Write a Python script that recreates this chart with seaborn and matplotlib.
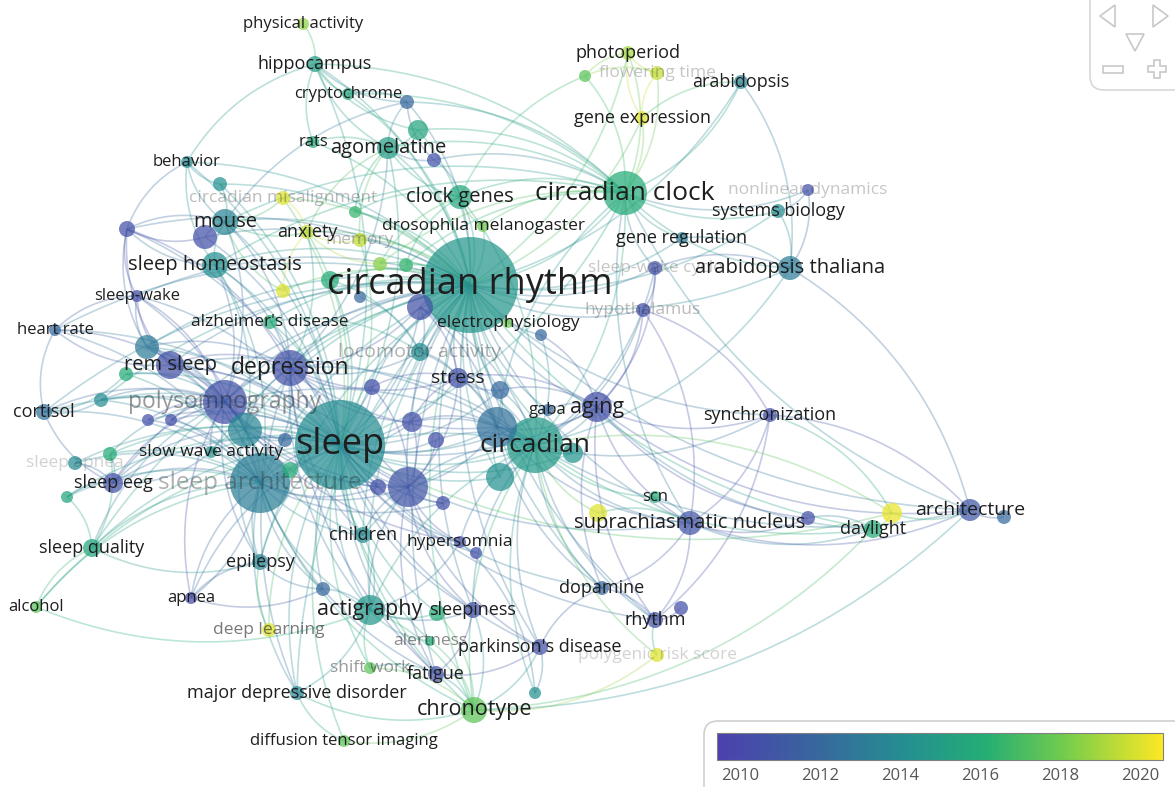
import numpy as np
import pandas as pd
import matplotlib
matplotlib.use("Agg")
import matplotlib.pyplot as plt
import seaborn as sns
from matplotlib.collections import LineCollection
from matplotlib.colors import LinearSegmentedColormap
from matplotlib.patches import FancyBboxPatch, Polygon, Rectangle

sns.set_style("white")
plt.rcParams['font.family'] = ['Open Sans', 'DejaVu Sans']

# --- nodes (map coordinates, average publication year) ---
node_ids = ['cr', 'sl', 'cc', 'ci', 'sa', 'dp', 'ps', 'ag', 'rs', 'sh',
            'mo', 'at', 'st', 'sn', 'ar', 'dl', 'ac', 'ch', 'cg', 'am',
            'hc', 'pa', 'cy', 'ra', 'be', 'cm', 'ax', 'me', 'dm', 'pp',
            'ft', 'ge', 'ab', 'nd', 'sb', 'gr', 'swc', 'hy', 'ep', 'la',
            'ad', 'sw', 'hr', 'co', 'sp', 'swa', 'se', 'sq', 'al', 'el',
            'an', 'dle', 'cn', 'hs', 'si', 'alt', 'pd', 'shw', 'fa', 'mdd',
            'dti', 'do', 'rh', 'prs', 'scn', 'sy', 'ga',
            'u1', 'u2', 'u3', 'u4', 'u5', 'u6', 'u7', 'u8', 'u9', 'u10',
            'u11', 'u12', 'u13', 'u14', 'u15', 'u16', 'u17', 'u18', 'u19', 'u20',
            'u21', 'u22', 'u23', 'u24', 'u25', 'u26', 'u27', 'u28', 'u29', 'u30',
            'u31', 'u32', 'u33', 'u34', 'u35', 'u36', 'u37', 'u38', 'u39', 'u40',
            'u41', 'u42', 'u43', 'u44']
node_labels = ['circadian rhythm', 'sleep', 'circadian clock', 'circadian', 'sleep architecture',
               'depression', 'polysomnography', 'aging', 'rem sleep', 'sleep homeostasis',
               'mouse', 'arabidopsis thaliana', 'stress', 'suprachiasmatic nucleus', 'architecture',
               'daylight', 'actigraphy', 'chronotype', 'clock genes', 'agomelatine',
               'hippocampus', 'physical activity', 'cryptochrome', 'rats', 'behavior',
               'circadian misalignment', 'anxiety', 'memory', 'drosophila melanogaster', 'photoperiod',
               'flowering time', 'gene expression', 'arabidopsis', 'nonlinear dynamics', 'systems biology',
               'gene regulation', 'sleep-wake cycle', 'hypothalamus', 'electrophysiology', 'locomotor activity',
               "alzheimer's disease", 'sleep-wake', 'heart rate', 'cortisol', 'sleep apnea',
               'slow wave activity', 'sleep eeg', 'sleep quality', 'alcohol', 'epilepsy',
               'apnea', 'deep learning', 'children', 'hypersomnia', 'sleepiness',
               'alertness', "parkinson's disease", 'shift work', 'fatigue', 'major depressive disorder',
               'diffusion tensor imaging', 'dopamine', 'rhythm', 'polygenic risk score', 'scn',
               'synchronization', 'gaba'] + [''] * 44
node_x = [470, 340, 625, 535, 260, 290, 225, 597, 170, 215,
          225, 790, 458, 690, 970, 873, 370, 474, 460, 388,
          315, 303, 348, 313, 187, 283, 307, 360, 483, 628,
          657, 642, 741, 808, 778, 682, 655, 643, 508, 420,
          270, 137, 55, 44, 75, 211, 113, 92, 36, 260,
          191, 269, 363, 460, 473, 430, 540, 370, 436, 297,
          344, 602, 655, 657, 655, 770, 548,
          892, 1004, 808, 598, 323, 407, 434, 418, 220, 127,
          283, 380, 420, 360, 147, 126, 101, 148, 171, 245,
          372, 412, 436, 408, 378, 443, 497, 500, 573, 500,
          110, 67, 290, 476, 541, 330, 355, 535, 437, 681,
          585, 205, 406, 285]
node_y = [285, 445, 193, 445, 483, 368, 402, 407, 365, 265,
          222, 268, 378, 523, 510, 529, 610, 710, 197, 148,
          64, 24, 94, 142, 162, 198, 232, 240, 226, 53,
          73, 118, 82, 190, 211, 238, 268, 310, 323, 352,
          322, 296, 330, 412, 463, 452, 483, 548, 607, 562,
          598, 630, 535, 542, 610, 641, 647, 668, 674, 693,
          741, 588, 620, 655, 497, 415, 410,
          513, 517, 518, 513, 589, 102, 160, 130, 184, 229,
          291, 264, 307, 297, 347, 374, 400, 420, 420, 430,
          387, 422, 440, 487, 487, 503, 427, 477, 453, 390,
          454, 497, 470, 553, 335, 280, 212, 693, 613, 608,
          76, 237, 265, 440]
node_r = [48, 45, 22, 28, 30, 18, 22, 15, 14, 13,
          13, 12, 10, 12, 11, 9, 15, 13, 12, 11,
          8, 6, 6, 6, 6, 7, 7, 7, 6, 7,
          7, 7, 7, 6, 7, 6, 7, 7, 5, 9,
          7, 6, 6, 8, 7, 6, 10, 9, 6, 8,
          6, 7, 8, 6, 8, 5, 8, 6, 8, 7,
          6, 7, 8, 7, 6, 7, 6,
          10, 7, 7, 9, 7, 7, 7, 10, 7, 8,
          7, 7, 13, 6, 12, 7, 7, 6, 6, 17,
          8, 10, 8, 20, 8, 7, 20, 14, 10, 9,
          7, 6, 8, 6, 6, 9, 6, 6, 8, 7,
          6, 12, 7, 7]
node_year = [2014.6, 2014.0, 2016.0, 2014.8, 2013.2, 2010.6, 2010.6, 2010.5, 2010.6, 2014.2,
             2013.6, 2013.0, 2010.6, 2010.7, 2011.0, 2016.0, 2014.6, 2017.6, 2015.6, 2015.0,
             2015.0, 2018.6, 2015.6, 2016.0, 2014.0, 2020.0, 2019.5, 2019.5, 2018.0, 2019.0,
             2019.5, 2020.0, 2013.5, 2010.5, 2014.0, 2013.0, 2010.5, 2010.5, 2018.0, 2014.0,
             2016.0, 2010.5, 2012.0, 2012.5, 2014.0, 2014.5, 2010.5, 2015.5, 2017.5, 2013.6,
             2010.2, 2020.0, 2014.0, 2010.5, 2010.6, 2016.0, 2010.6, 2017.6, 2010.6, 2013.6,
             2017.6, 2012.0, 2010.6, 2020.0, 2016.0, 2010.5, 2012.0,
             2020.2, 2012.0, 2010.5, 2020.0, 2012.0, 2012.0, 2010.5, 2015.5, 2014.2, 2010.5,
             2020.0, 2018.5, 2010.6, 2012.0, 2013.0, 2016.0, 2014.0, 2010.5, 2010.5, 2013.6,
             2010.5, 2010.5, 2010.5, 2010.8, 2010.5, 2010.5, 2012.5, 2014.3, 2014.5, 2012.0,
             2016.0, 2015.5, 2016.0, 2010.5, 2012.0, 2016.0, 2016.5, 2014.3, 2016.0, 2010.5,
             2017.5, 2010.5, 2016.5, 2012.0]
label_pt = [26, 26, 19, 19, 17.5, 16.5, 16.5, 15.5, 14.5, 14.5,
            14.5, 14.5, 14, 14.5, 14, 13, 15.5, 15.5, 14.5, 14.5,
            13, 12, 12, 12, 12, 12.5, 13, 12.5, 12.5, 13,
            12.5, 13, 13, 12.5, 13, 13, 12.5, 12.5, 12.5, 14,
            12.5, 12, 12, 13, 12.5, 12.5, 13, 13, 12, 13,
            12, 12.5, 13, 12.5, 13, 12.5, 13, 12.5, 13, 13,
            12, 13, 13, 12.5, 12, 13, 12] + [10] * 44
label_alpha = [1, 1, 1, 1, 0.35, 1, 0.45, 1, 1, 1,
               1, 1, 1, 1, 1, 1, 1, 1, 1, 1,
               1, 1, 1, 1, 1, 0.3, 1, 0.3, 1, 1,
               0.25, 1, 1, 0.25, 1, 1, 0.25, 0.3, 1, 0.35,
               1, 1, 1, 1, 0.2, 1, 1, 1, 1, 1,
               1, 0.6, 1, 1, 1, 0.5, 1, 0.45, 1, 1,
               1, 1, 1, 0.2, 1, 1, 1] + [0] * 44

# --- co-occurrence links ---
links = {
    'cr': ['sl', 'ci', 'cc', 'sa', 'dp', 'ps', 'ag', 'rs', 'sh', 'mo', 'at', 'st', 'sn', 'ar',
           'dl', 'ac', 'ch', 'cg', 'am', 'hc', 'cy', 'ra', 'be', 'cm', 'ax', 'me', 'dm', 'pp',
           'ge', 'ab', 'sb', 'gr', 'swc', 'hy', 'ep', 'la', 'ad', 'co', 'swa', 'se', 'cn', 'si',
           'pd', 'fa', 'mdd', 'do', 'rh', 'sy', 'ga', 'u24', 'u27', 'u13', 'u8', 'u6', 'u10',
           'u20', 'u28', 'u29', 'u11', 'u12', 'u36', 'u37', 'u43', 'sw', 'hr', 'sq', 'el',
           'u15', 'u17', 'u21', 'u22', 'u30', 'u35', 'u9', 'u42'],
    'sl': ['ci', 'cc', 'sa', 'dp', 'ps', 'ag', 'rs', 'sh', 'mo', 'st', 'sn', 'ac', 'ch', 'am',
           'hc', 'be', 'ax', 'la', 'ad', 'sw', 'hr', 'co', 'sp', 'swa', 'se', 'sq', 'al', 'el',
           'an', 'dle', 'cn', 'hs', 'si', 'alt', 'pd', 'shw', 'fa', 'mdd', 'dti', 'do', 'rh',
           'ga', 'u24', 'u27', 'u20', 'u15', 'u16', 'u17', 'u31', 'u32', 'u33', 'u10', 'u1',
           'u5', 'u21', 'u22', 'u23', 'u25', 'u26', 'u34', 'u39', 'u44', 'u18', 'u19', 'u13',
           'u28', 'u29', 'u30', 'u36', 'u42', 'u9', 'cm', 'me'],
    'ci': ['cc', 'sa', 'dp', 'ag', 'sn', 'ar', 'dl', 'ac', 'ch', 'at', 'sy', 'do', 'rh', 'u4',
           'scn', 'pd', 'prs', 'hy', 'u27', 'u24', 'st', 'u30', 'u35', 'u38', 'cg', 'swc',
           'u28', 'u29', 'u13', 'u22', 'u23', 'ps', 'rs', 'cn', 'hs', 'si'],
    'cc': ['cg', 'at', 'ab', 'pp', 'ge', 'ft', 'sb', 'gr', 'nd', 'dm', 'u41', 'hc', 'am', 'cy',
           'sn', 'ar', 'swc', 'u8', 'u7', 'u6', 'u27', 'u12', 'u43', 'mo', 'sh'],
    'sa': ['dp', 'ps', 'rs', 'sh', 'se', 'swa', 'el', 'an', 'cn', 'ac', 'sq', 'u24', 'u20',
           'mdd', 'hr', 'co', 'u33', 'u32', 'u15', 'u16', 'u17', 'u18', 'u19', 'u31', 'u21',
           'u25', 'u26', 'sw', 'sp', 'u5', 'al', 'ch', 'fa'],
    'dp': ['ps', 'rs', 'am', 'ax', 'ac', 'st', 'ad', 'u20', 'mdd', 'fa', 'u24', 'u21', 'u15',
           'sh', 'mo', 'u10', 'la', 'u13', 'cn', 'u27', 'u22'],
    'ps': ['rs', 'se', 'sw', 'hr', 'co', 'an', 'el', 'swa', 'u20', 'u15', 'u18', 'u19', 'u16',
           'u17', 'u31', 'sq', 'u24', 'hs', 'u25', 'u44', 'sh', 'mo'],
    'u20': ['rs', 'se', 'swa', 'u15', 'u17', 'sh', 'u24', 'u33', 'el', 'cn', 'u44'],
    'u24': ['rs', 'st', 'u27', 'u21', 'u22', 'u23', 'hs', 'si', 'fa', 'pd', 'cn', 'ac', 'u26'],
    'u27': ['st', 'u30', 'u22', 'u28', 'u29', 'ag', 'do', 'sn', 'la', 'u13'],
    'ag': ['sy', 'sn', 'hy', 'swc', 'ar', 'dl', 'u3', 'rh', 'do', 'ga', 'st', 'u30', 'u35'],
    'hc': ['pa', 'cy', 'be', 'u8', 'am', 'u6', 'ra'],
    'u6': ['cy', 'u7', 'mo', 'am'],
    'am': ['ra', 'u7', 'ax', 'me', 'u8', 'cg', 'u37'],
    'be': ['u9', 'mo', 'u10', 'sh'],
    'mo': ['u9', 'u10', 'u42', 'sh', 'u11', 'ax', 'cm'],
    'u10': ['rs', 'sh', 'sw', 'u42', 'u15'],
    'sw': ['hr', 'rs', 'u15'],
    'hr': ['co', 'rs'],
    'co': ['se', 'u17', 'u16'],
    'se': ['sp', 'u32', 'u31', 'swa'],
    'sq': ['al', 'el', 'u32', 'u31'],
    'al': ['ac'],
    'el': ['an', 'dle', 'u5'],
    'an': ['sa', 'u5'],
    'mdd': ['dti', 'ch', 'ac'],
    'dti': ['ch'],
    'ch': ['shw', 'ac', 'pd', 'prs', 'ar', 'dl', 'si', 'fa', 'alt', 'u39'],
    'fa': ['si', 'pd', 'shw'],
    'rh': ['prs', 'u40', 'do', 'sn', 'sy'],
    'do': ['pd', 'sn'],
    'u38': ['pd', 'hs'],
    'sn': ['u3', 'dl', 'ar', 'scn', 'u4', 'hy', 'sy'],
    'dl': ['u3', 'u1'],
    'u1': ['ar', 'ci', 'sy'],
    'ar': ['u2', 'sy', 'at'],
    'at': ['sb', 'ab', 'swc', 'gr', 'nd'],
    'sb': ['nd'],
    'ab': ['ge'],
    'pp': ['ge', 'ft', 'u41'],
    'ft': ['u41', 'ge'],
    'u41': ['cg'],
    'sy': ['hy'],
    'hy': ['swc'],
    'ac': ['si', 'u39', 'alt', 'shw', 'cn', 'u5', 'hs'],
    'st': ['la', 'u13', 'u21', 'u22', 'u30'],
    'la': ['u13', 'u14', 'ad', 'u36'],
    'cg': ['dm', 'u12', 'u43', 'u37', 'u7'],
    'ax': ['me', 'cm', 'u11', 'u12'],
}

# overlay colour scale (VOSviewer-like viridis, violet-blue at the old end)
lo, hi = 2009.43, 2020.57
cmap = LinearSegmentedColormap.from_list('vos', [
    (0.00, (0.30, 0.25, 0.68)),
    (0.22, (0.22, 0.40, 0.62)),
    (0.42, (0.14, 0.56, 0.57)),
    (0.60, (0.14, 0.68, 0.46)),
    (0.78, (0.45, 0.80, 0.30)),
    (1.00, (0.99, 0.91, 0.14))])
norm = plt.Normalize(lo, hi)

nodes = pd.DataFrame({'id': node_ids, 'label': node_labels, 'x': node_x, 'y': node_y,
                      'r': node_r, 'year': node_year, 'pt': label_pt, 'lab_alpha': label_alpha})
pos = nodes.set_index('id')

fig = plt.figure(figsize=(11.75, 7.87), dpi=100)
ax = fig.add_axes([0, 0, 1, 1])

# curved links
segs, cols = [], []
t = np.linspace(0, 1, 30)[:, None]
for a, targets in links.items():
    for b in targets:
        p0 = pos.loc[a, ['x', 'y']].to_numpy(float)
        p2 = pos.loc[b, ['x', 'y']].to_numpy(float)
        d = p2 - p0
        ctrl = (p0 + p2) / 2 + np.array([-d[1], d[0]]) * 0.2
        curve = (1 - t) ** 2 * p0 + 2 * (1 - t) * t * ctrl + t ** 2 * p2
        segs.append(curve)
        c = list(cmap(norm((pos.loc[a, 'year'] + pos.loc[b, 'year']) / 2)))
        c[3] = 0.3
        cols.append(c)
ax.add_collection(LineCollection(segs, colors=cols, linewidths=1.2, zorder=1))

# nodes
nodes['area'] = (2 * nodes['r'] * 0.72) ** 2
order = nodes.sort_values('r', ascending=False)
amin, amax = nodes['area'].min(), nodes['area'].max()
sns.scatterplot(data=order, x='x', y='y', hue='year', palette=cmap, hue_norm=(lo, hi),
                size='area', sizes=(amin, amax), size_norm=(amin, amax),
                alpha=0.72, linewidth=0, legend=False, ax=ax, zorder=2)

# labels
for _, row in nodes.iterrows():
    if row['label']:
        ax.text(row['x'], row['y'], row['label'], fontsize=row['pt'], color='#1e1e1e',
                alpha=row['lab_alpha'], ha='center', va='center', zorder=3)

ax.set_xlim(0, 1175)
ax.set_ylim(787, 0)
ax.axis('off')

# legend frame + colour scale
ax.add_patch(FancyBboxPatch((704, 721), 490, 90, boxstyle='round,pad=0,rounding_size=14',
                            fc='white', ec='#cfcfcf', lw=1.2, zorder=4))
cax = fig.add_axes([717 / 1175, (787 - 760) / 787, 446 / 1175, 27 / 787])
cb = fig.colorbar(plt.cm.ScalarMappable(norm=norm, cmap=cmap), cax=cax, orientation='horizontal')
cb.set_ticks([2010, 2012, 2014, 2016, 2018, 2020])
cax.tick_params(direction='in', length=7, color='#707070', labelsize=12, labelcolor='#555555', pad=6)
cb.outline.set_edgecolor('#808080')

# navigation widget (top right)
ax.add_patch(FancyBboxPatch((1090, -20), 110, 110, boxstyle='round,pad=0,rounding_size=14',
                            fc='white', ec='#d8d8d8', lw=1.2, zorder=4))
grey = '#c8c8c8'
ax.add_patch(Polygon([[1115, 5], [1115, 27], [1100, 16]], closed=True, fill=False, ec=grey, lw=1.2, zorder=5))
ax.add_patch(Polygon([[1153, 5], [1153, 27], [1168, 16]], closed=True, fill=False, ec=grey, lw=1.2, zorder=5))
ax.add_patch(Polygon([[1126, 34], [1144, 34], [1135, 51]], closed=True, fill=False, ec=grey, lw=1.2, zorder=5))
ax.add_patch(Rectangle((1103, 66), 20, 7, fill=False, ec=grey, lw=1.2, zorder=5))
ax.add_patch(Polygon([[1154, 60], [1160, 60], [1160, 66], [1166, 66], [1166, 72], [1160, 72],
                      [1160, 78], [1154, 78], [1154, 72], [1148, 72], [1148, 66], [1154, 66]],
                     closed=True, fill=False, ec=grey, lw=1.2, zorder=5))

fig.savefig('out.png', dpi=100)
